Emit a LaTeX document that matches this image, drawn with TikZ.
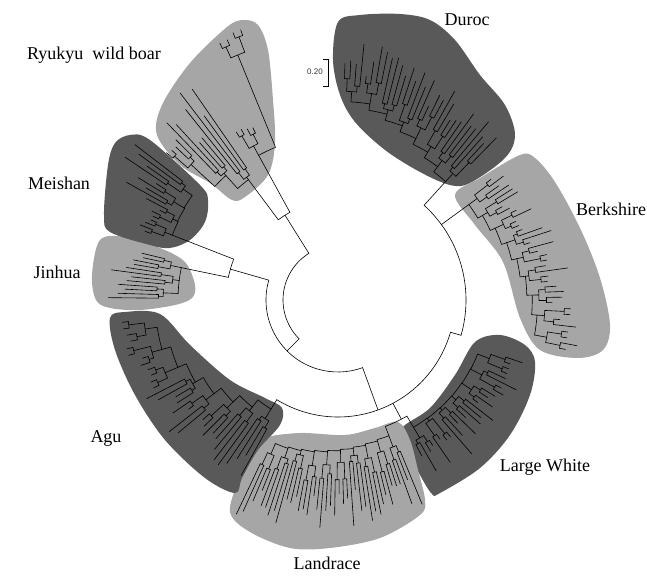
\documentclass[tikz,border=0pt]{standalone}
\usepackage{fontspec}
\setmainfont{Liberation Serif}
\newfontfamily\barfont{Liberation Sans}
\definecolor{cladedark}{RGB}{89,89,89}
\definecolor{cladelight}{RGB}{166,166,166}
\tikzset{
  branch/.style={line width=0.6pt, line cap=round},
  cladename/.style={font=\fontsize{18}{20}\selectfont},
  barlabel/.style={font=\barfont\fontsize{8}{9}\selectfont, text=black!80},
}
% clade: root-side angle, far angle, leaves (4k), base r root/far, tip r root/far, parent r
\newcommand{\clade}[8]{%
  \pgfmathsetmacro{\cstep}{(#2-#1)/#3}%
  \pgfmathtruncatemacro{\clast}{#3/4-1}%
  \pgfmathsetmacro{\rootang}{#1+2*\cstep}%
  \draw[branch] (\rootang:#8) -- (\rootang:#4);%
  \foreach \qidx in {0,...,\clast}{%
    \pgfmathsetmacro{\qang}{#1+(4*\qidx+2)*\cstep}%
    \pgfmathsetmacro{\qbase}{#4+(#5-#4)*\qidx/\clast}%
    \pgfmathsetmacro{\qrad}{\qbase+3+12*rnd}%
    \pgfmathsetmacro{\qtip}{#6+(#7-#6)*\qidx/\clast}%
    \ifnum\qidx<\clast
      \pgfmathsetmacro{\nang}{\qang+4*\cstep}%
      \pgfmathsetmacro{\nbase}{#4+(#5-#4)*(\qidx+1)/\clast}%
      \draw[branch] (\qang:\qbase) arc[start angle=\qang, end angle=\nang, radius=\qbase] -- (\nang:\nbase);%
    \fi
    \pgfmathsetmacro{\qfrom}{\qang-\cstep}%
    \pgfmathsetmacro{\qto}{\qang+\cstep}%
    \draw[branch] (\qang:\qbase) -- (\qang:\qrad) (\qfrom:\qrad) arc[start angle=\qfrom, end angle=\qto, radius=\qrad];%
    \foreach \sidx in {-1,1}{%
      \pgfmathsetmacro{\sang}{\qang+\sidx*\cstep}%
      \pgfmathsetmacro{\srad}{\qrad+4+16*rnd}%
      \pgfmathsetmacro{\sfrom}{\sang-0.5*\cstep}%
      \pgfmathsetmacro{\sto}{\sang+0.5*\cstep}%
      \draw[branch] (\sang:\qrad) -- (\sang:\srad) (\sfrom:\srad) arc[start angle=\sfrom, end angle=\sto, radius=\srad];%
      \foreach \lang in {\sfrom,\sto}{%
        \pgfmathsetmacro{\trad}{max(\srad+6,\qtip-38*rnd)}%
        \draw[branch] (\lang:\srad) -- (\lang:\trad);%
      }%
    }%
  }%
}
\begin{document}
\begin{tikzpicture}[x=1pt,y=1pt]
\useasboundingbox (0,0) rectangle (647,-577);
\pgfmathsetseed{11}
% breed groups
\fill[cladedark] plot[smooth cycle, tension=0.55] coordinates {(338,-22) (360,-15) (400,-14) (430,-20) (455,-40) (480,-75) (505,-105) (515,-135) (505,-158) (470,-183) (450,-185) (420,-172) (385,-150) (355,-122) (340,-95) (333,-60)};
\fill[cladelight] plot[smooth cycle, tension=0.55] coordinates {(455,-195) (480,-178) (520,-155) (535,-158) (555,-182) (580,-228) (600,-278) (610,-325) (603,-350) (578,-358) (540,-350) (520,-318) (503,-262) (475,-225)};
\fill[cladedark] plot[smooth cycle, tension=0.55] coordinates {(402,-428) (430,-408) (455,-375) (475,-342) (500,-335) (525,-345) (535,-362) (530,-395) (510,-435) (480,-468) (440,-493) (432,-494) (420,-475) (405,-445)};
\fill[cladelight] plot[smooth cycle, tension=0.55] coordinates {(265,-438) (300,-433) (345,-435) (375,-428) (398,-422) (410,-440) (418,-470) (425,-500) (420,-515) (380,-538) (330,-548) (290,-548) (250,-532) (230,-512) (240,-478) (255,-452)};
\fill[cladedark] plot[smooth cycle, tension=0.55] coordinates {(110,-318) (125,-312) (160,-314) (190,-345) (230,-380) (265,-398) (282,-408) (280,-425) (258,-450) (242,-478) (235,-493) (205,-478) (165,-440) (135,-395) (115,-350)};
\fill[cladelight] plot[smooth cycle, tension=0.55] coordinates {(100,-240) (125,-237) (160,-248) (185,-262) (195,-285) (192,-298) (175,-305) (140,-310) (110,-308) (96,-300) (92,-275)};
\fill[cladedark] plot[smooth cycle, tension=0.55] coordinates {(115,-143) (130,-135) (150,-140) (200,-185) (208,-200) (205,-222) (190,-240) (170,-248) (150,-245) (110,-232) (104,-215) (108,-165)};
\fill[cladelight] plot[smooth cycle, tension=0.55] coordinates {(227,-27) (243,-20) (258,-25) (268,-50) (273,-100) (275,-143) (268,-175) (245,-197) (232,-200) (210,-183) (180,-165) (157,-135) (162,-105) (190,-63)};
\begin{scope}[shift={(338,-300)}]
% backbone
\draw[branch] (122:55) arc[start angle=122, end angle=225, radius=55];
\draw[branch] (122:55) -- (122:100);
\draw[branch] (118.75:100) arc[start angle=118.75, end angle=126.667, radius=100];
\draw[branch] (225:55) -- (225:72);
\draw[branch] (164:72) arc[start angle=164, end angle=290, radius=72];
\draw[branch] (164:72) -- (164:112);
\draw[branch] (158.625:112) arc[start angle=158.625, end angle=168.333, radius=112];
\draw[branch] (290:72) -- (290:117);
\draw[branch] (-121.5625:117) arc[start angle=-121.5625, end angle=-16, radius=117];
\draw[branch] (-62:117) -- (-62:135);
\draw[branch] (-69.45:135) arc[start angle=-69.45, end angle=-59.32, radius=135];
\draw[branch] (-16:117) -- (-16:128);
\draw[branch] (-16:128) arc[start angle=-16, end angle=47.75, radius=128];
% breeds
\clade{45}{89}{32}{160}{205}{240}{262}{128}
\clade{39}{-13}{36}{162}{205}{215}{244}{128}
\clade{-62.5}{-18}{28}{148}{150}{210}{198}{135}
\clade{-67}{-116}{40}{145}{158}{222}{240}{135}
\clade{-118}{-175}{32}{128}{192}{212}{225}{117}
\clade{166}{180}{12}{160}{160}{228}{230}{112}
\clade{161}{142}{16}{178}{180}{212}{258}{112}
\clade{122}{109}{8}{165}{255}{215}{285}{100}
\clade{124}{140}{12}{150}{185}{265}{228}{100}
\end{scope}
% names
\node[cladename] (duroc) at (467,-20) {Duroc};
\node[cladename] (berkshire) at (611,-209) {Berkshire};
\node[cladename] (largewhite) at (545,-467) {Large White};
\node[cladename] (landrace) at (327,-563) {Landrace};
\node[cladename] (agu) at (106,-438) {Agu};
\node[cladename] (jinhua) at (57,-272) {Jinhua};
\node[cladename] (meishan) at (59,-183) {Meishan};
\node[cladename] (ryukyu) at (94,-55) {Ryukyu\ \ wild boar};
% scale
\node[barlabel] (scale) at (315,-72) {0.20};
\draw[line width=0.6pt] (323,-59) -- (328,-59) -- (328,-86) -- (323,-86);
\end{tikzpicture}
\end{document}
